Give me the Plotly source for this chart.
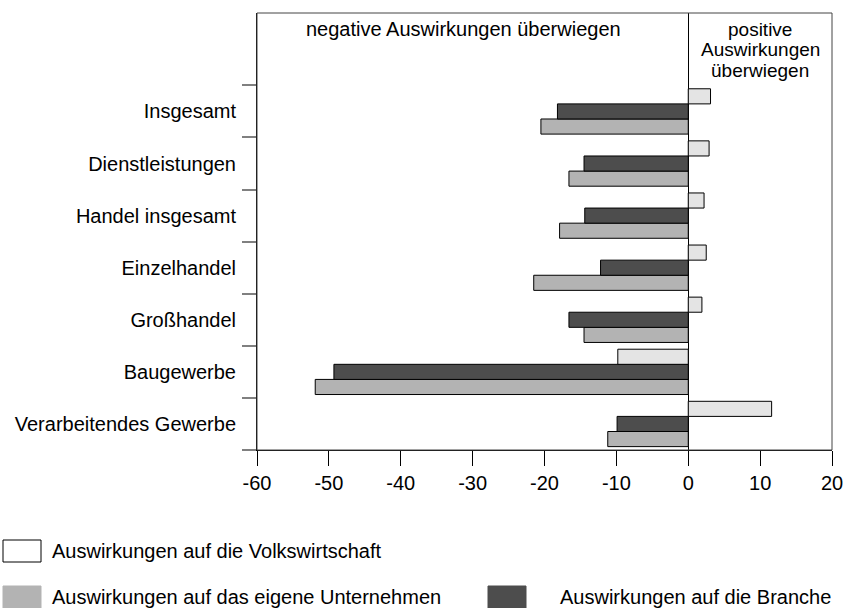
import plotly.graph_objects as go

# categories listed bottom -> top (plotly draws the first category at the bottom)
categories = [
    "Verarbeitendes Gewerbe",
    "Baugewerbe",
    "Großhandel",
    "Einzelhandel",
    "Handel insgesamt",
    "Dienstleistungen",
    "Insgesamt",
]
eigenes_unternehmen = [-11.2, -51.9, -14.5, -21.5, -17.9, -16.6, -20.5]
branche = [-9.9, -49.3, -16.6, -12.2, -14.4, -14.5, -18.2]
volkswirtschaft = [11.6, -9.8, 1.9, 2.5, 2.2, 2.9, 3.1]

x_ticks = [-60, -50, -40, -30, -20, -10, 0, 10, 20]
x_tick_text = ["-60", "-50", "-40", "-30", "-20", "-10", "0", "10", "20"]

FONT = "Liberation Sans, Arial, sans-serif"
FS = 20
LIGHT = "#e4e4e4"
MEDIUM = "#b3b3b3"
DARK = "#4d4d4d"

W, H = 844, 608
L, R, T, B = 257, 12, 13, 158
PW, PH = W - L - R, H - T - B


def px(x):
    return (x - L) / PW


def py(y):
    return (H - B - y) / PH


def label(text, x, y, xanchor="center", size=FS):
    fig.add_annotation(x=px(x), y=py(y), xref="paper", yref="paper",
                       text=text, showarrow=False,
                       xanchor=xanchor, yanchor="middle",
                       font=dict(size=size, family=FONT, color="black"))


fig = go.Figure()
for name, vals, col in [
    ("Auswirkungen auf das eigene Unternehmen", eigenes_unternehmen, MEDIUM),
    ("Auswirkungen auf die Branche", branche, DARK),
    ("Auswirkungen auf die Volkswirtschaft", volkswirtschaft, LIGHT),
]:
    fig.add_trace(
        go.Bar(
            x=vals,
            y=categories,
            orientation="h",
            name=name,
            marker=dict(color=col, line=dict(color="black", width=1)),
            showlegend=False,
        )
    )

# plot frame
fig.add_shape(type="rect", xref="paper", yref="paper", x0=0, x1=1, y0=0, y1=1,
              line=dict(color="#444444", width=1))

# region headers
label("negative Auswirkungen überwiegen", 463, 29)
for i, line in enumerate(["positive", "Auswirkungen", "überwiegen"]):
    label(line, 760, 30 + 20 * i, size=19)

# custom legend (box left, box top, text left)
legend_items = [
    ("Auswirkungen auf die Volkswirtschaft", "white", 3, 540, 50),
    ("Auswirkungen auf das eigene Unternehmen", MEDIUM, 3, 586, 50),
    ("Auswirkungen auf die Branche", DARK, 488, 586, 558),
]
for text, col, bx, by, tx in legend_items:
    fig.add_shape(type="rect", xref="paper", yref="paper",
                  x0=px(bx), x1=px(bx + 38), y0=py(by + 22), y1=py(by),
                  fillcolor=col,
                  line=dict(color="black" if col == "white" else col, width=1))
    label(text, tx, by + 11, xanchor="left")

fig.update_xaxes(
    range=[-60, 20],
    tickvals=x_ticks,
    ticktext=x_tick_text,
    ticks="outside",
    ticklen=15,
    tickcolor="black",
    showline=True,
    linecolor="black",
    showgrid=False,
    zeroline=True,
    zerolinecolor="black",
    zerolinewidth=1,
    tickfont=dict(size=FS, family=FONT, color="black"),
)
fig.update_yaxes(
    type="category",
    categoryorder="array",
    categoryarray=categories,
    range=[-0.5, 7.89],
    tickson="boundaries",
    ticks="outside",
    ticklen=14,
    tickcolor="#808080",
    tickwidth=1.5,
    ticklabelstandoff=16,
    showline=True,
    linecolor="black",
    showgrid=False,
    tickfont=dict(size=FS, family=FONT, color="black"),
)
fig.update_layout(
    width=W,
    height=H,
    barmode="group",
    bargap=0.13,
    bargroupgap=0,
    paper_bgcolor="white",
    plot_bgcolor="white",
    margin=dict(l=L, r=R, t=T, b=B, autoexpand=False),
    font=dict(family=FONT, color="black"),
)
fig.write_html(
    "out.html",
    config={"displayModeBar": False},
    post_script="document.body.style.margin = '0';",
)
